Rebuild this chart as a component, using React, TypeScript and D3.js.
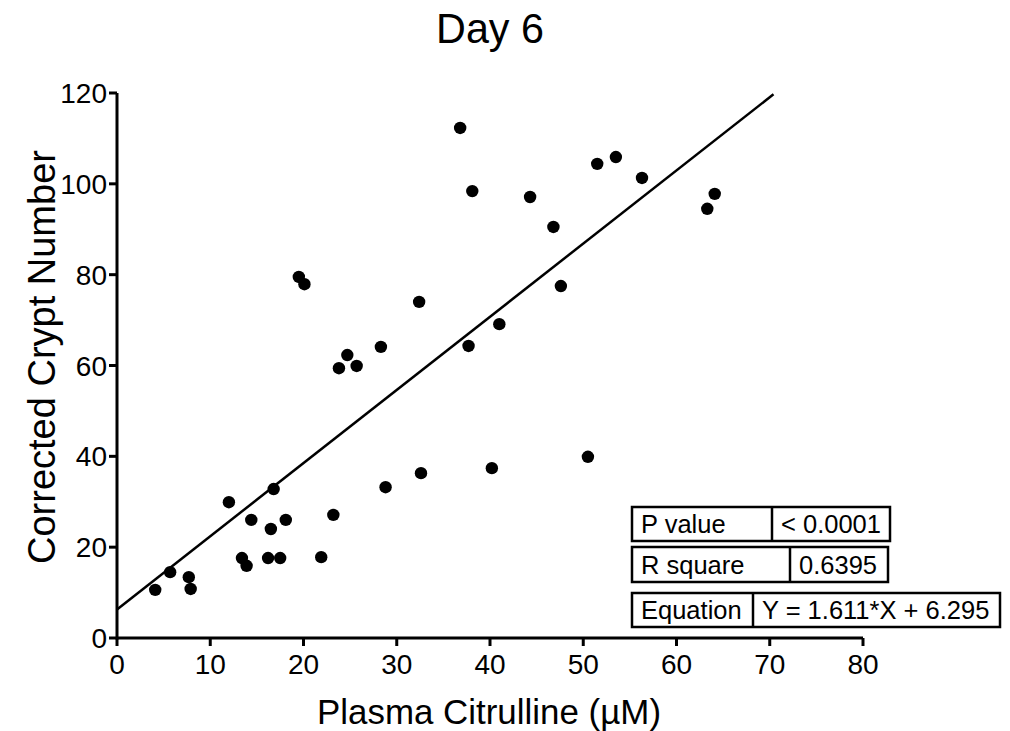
import React from "react";
import * as d3 from "d3";

const title = "Day 6";
const xLabel = "Plasma Citrulline (µM)";
const yLabel = "Corrected Crypt Number";
const xTicks = [0, 10, 20, 30, 40, 50, 60, 70, 80];
const yTicks = [0, 20, 40, 60, 80, 100, 120];

const citrulline = [
  4.1, 5.7, 7.7, 7.9, 12.0, 13.4, 13.9, 14.4, 16.2, 16.5, 16.8, 17.5, 18.1,
  19.5, 20.1, 21.9, 23.2, 23.8, 24.7, 25.7, 28.3, 28.8, 32.4, 32.6, 36.8,
  37.7, 38.1, 40.2, 41.0, 44.3, 46.8, 47.6, 50.5, 51.5, 53.5, 56.3, 63.3, 64.1,
];
const cryptNumber = [
  10.6, 14.5, 13.4, 10.8, 29.9, 17.6, 15.9, 26.0, 17.6, 24.0, 32.8, 17.6, 26.0,
  79.5, 77.9, 17.8, 27.1, 59.4, 62.3, 59.9, 64.1, 33.2, 74.0, 36.3, 112.3,
  64.3, 98.4, 37.4, 69.1, 97.1, 90.5, 77.5, 39.9, 104.4, 105.9, 101.3, 94.5, 97.8,
];

const slope = 1.611;
const intercept = 6.295;
const fitRange = [0, 70.4];

const statLabels = ["P value", "R square", "Equation"];
const statValues = ["< 0.0001", "0.6395", "Y = 1.611*X + 6.295"];

export default function App() {
  const W = 1010;
  const H = 731;
  const x = d3.scaleLinear().domain([0, 80]).range([117, 863]);
  const y = d3.scaleLinear().domain([0, 120]).range([638, 93]);
  const font = "'Liberation Sans', Arial, sans-serif";

  const fitLine = d3
    .line<number>()
    .x((d) => x(d))
    .y((d) => y(slope * d + intercept))(fitRange);

  const boxes = [
    { x0: 632, x1: 890, div: 772, y0: 507, y1: 541 },
    { x0: 632, x1: 888, div: 790, y0: 547, y1: 582 },
    { x0: 632, x1: 1000, div: 753, y0: 593, y1: 627 },
  ];

  return (
    <svg
      width={W}
      height={H}
      style={{ position: "absolute", left: 0, top: 0, background: "#fff" }}
      fontFamily={font}
    >
      <rect x={0} y={0} width={W} height={H} fill="#fff" />
      <text
        transform="translate(490, 43) scale(0.96, 1)"
        textAnchor="middle"
        fontSize={43}
        fill="#000"
      >
        {title}
      </text>

      {/* axes */}
      <line x1={x(0)} x2={x(80)} y1={y(0)} y2={y(0)} stroke="#000" strokeWidth={3} />
      <line x1={x(0)} x2={x(0)} y1={y(0) + 1.5} y2={y(120)} stroke="#000" strokeWidth={3} />
      {xTicks.map((t) => (
        <g key={"x" + t}>
          <line x1={x(t)} x2={x(t)} y1={y(0)} y2={y(0) + 8} stroke="#000" strokeWidth={3} />
          <text x={x(t)} y={674} textAnchor="middle" fontSize={28} fill="#000">
            {t}
          </text>
        </g>
      ))}
      {yTicks.map((t) => (
        <g key={"y" + t}>
          <line x1={x(0) - 8} x2={x(0)} y1={y(t)} y2={y(t)} stroke="#000" strokeWidth={3} />
          <text x={x(0) - 10} y={y(t) + 10} textAnchor="end" fontSize={28} fill="#000">
            {t}
          </text>
        </g>
      ))}
      <text
        transform="translate(489, 724) scale(0.97, 1)"
        textAnchor="middle"
        fontSize={36}
        fill="#000"
      >
        {xLabel}
      </text>
      <text
        transform="translate(55, 357) rotate(-90)"
        textAnchor="middle"
        fontSize={38}
        fill="#000"
      >
        {yLabel}
      </text>

      {/* fit line */}
      <path d={fitLine || ""} fill="none" stroke="#000" strokeWidth={2.5} />

      {/* points */}
      {citrulline.map((c, i) => (
        <circle key={i} cx={x(c)} cy={y(cryptNumber[i])} r={6.2} fill="#000" />
      ))}

      {/* stats table */}
      {boxes.map((b, i) => (
        <g key={"b" + i}>
          <rect
            x={b.x0}
            y={b.y0}
            width={b.x1 - b.x0}
            height={b.y1 - b.y0}
            fill="#fff"
            stroke="#000"
            strokeWidth={2.5}
          />
          <line x1={b.div} x2={b.div} y1={b.y0} y2={b.y1} stroke="#000" strokeWidth={2.5} />
          <text x={b.x0 + 9} y={b.y1 - 8} fontSize={25.5} fill="#000">
            {statLabels[i]}
          </text>
          <text x={b.div + 9} y={b.y1 - 8} fontSize={25.5} fill="#000">
            {statValues[i]}
          </text>
        </g>
      ))}
    </svg>
  );
}
